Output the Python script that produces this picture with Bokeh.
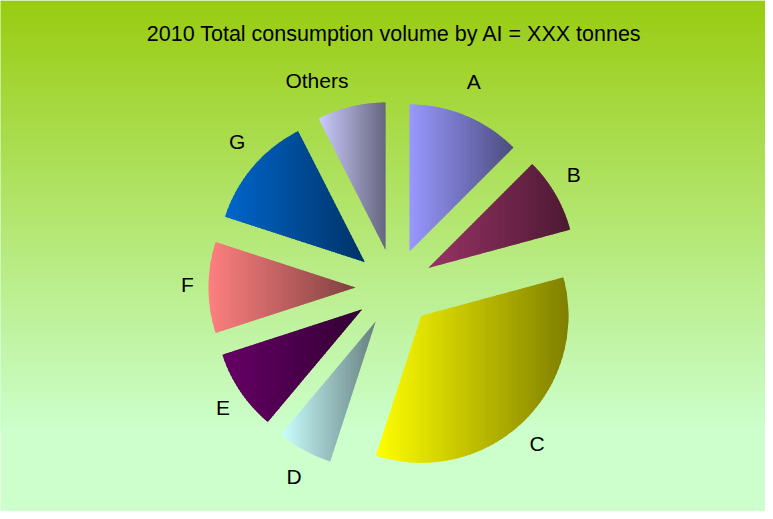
import numpy as np
from bokeh.plotting import figure
from bokeh.models import Range1d
from bokeh.embed import file_html
from bokeh.resources import INLINE
from bokeh.core.properties import value

# ---------------- data ----------------
title_text = "2010 Total consumption volume by AI = XXX tonnes"
categories = ["A", "B", "C", "D", "E", "F", "G", "Others"]
shares = [12.5, 8.3, 34.2, 6.1, 8.9, 10.0, 12.5, 7.5]
base_colors = ["#9999FF", "#993366", "#FFFF00", "#CCFFFF",
               "#660066", "#FF8080", "#0066CC", "#CCCCFF"]

# ---------------- layout / style ----------------
W, H = 765, 511
X0, Y0 = 0, 0
CX, CY = 394, 287          # pie centre (pixels)
R = 147                    # pie radius
EXPLODE = 39               # explosion distance
LABEL_RX, LABEL_RY = 207, 220
LABEL_DY = -3
LABEL_NUDGE = {"Others": -8.5}
DARK = 0.5
BG_TOP = np.array([153, 204, 17], dtype=float)
BG_BOT = np.array([204, 255, 204], dtype=float)
BG_END = 430
FONT = "Liberation Sans"

p = figure(width=W, height=H, x_range=Range1d(X0, X0 + W), y_range=Range1d(Y0 + H, Y0),
           output_backend="svg", toolbar_location=None, min_border=0,
           x_axis_location=None, y_axis_location=None)
p.grid.visible = False
p.outline_line_color = None
p.background_fill_color = "#CCFFCC"
p.border_fill_color = "#CCFFCC"

# background vertical gradient
ys = np.arange(Y0, BG_END + 1)
t = (ys - Y0) / (BG_END - Y0)
cols = []
for tt in t:
    c = BG_TOP * (1 - tt) + BG_BOT * tt
    cols.append("#%02x%02x%02x" % tuple(int(round(v)) for v in c))
p.quad(left=[X0] * len(ys), right=[X0 + W] * len(ys), top=list(ys), bottom=list(ys + 2),
       fill_color=cols, line_color=None)


def hex2rgb(h):
    h = h.lstrip("#")
    return np.array([int(h[i:i + 2], 16) for i in (0, 2, 4)], dtype=float)


def clip(poly, xv, keep_greater):
    out = []
    n = len(poly)
    for i in range(n):
        a = poly[i]
        b = poly[(i + 1) % n]
        ina = a[0] >= xv if keep_greater else a[0] <= xv
        inb = b[0] >= xv if keep_greater else b[0] <= xv
        if ina:
            out.append(a)
        if ina != inb:
            s = (xv - a[0]) / (b[0] - a[0])
            out.append((xv, a[1] + s * (b[1] - a[1])))
    return out


total = float(sum(shares))
start = 0.0
xs_all, ys_all, fc_all = [], [], []
lx, ly = [], []
for cat, sh, col in zip(categories, shares, base_colors):
    span = 360.0 * sh / total
    a0, a1 = start, start + span
    mid = np.radians((a0 + a1) / 2)
    ox = CX + EXPLODE * np.sin(mid)
    oy = CY - EXPLODE * np.cos(mid)
    angs = np.radians(np.linspace(a0, a1, 80))
    poly = [(ox, oy)] + [(ox + R * np.sin(a), oy - R * np.cos(a)) for a in angs]
    xmin = min(q[0] for q in poly)
    xmax = max(q[0] for q in poly)
    c0 = hex2rgb(col)
    c1 = c0 * DARK
    step = 2.0
    x = xmin
    while x < xmax:
        seg = clip(clip(poly, x, True), x + step + 1.0, False)
        if len(seg) >= 3:
            tt = min(1.0, max(0.0, (x + step / 2 - xmin) / (xmax - xmin)))
            c = c0 * (1 - tt) + c1 * tt
            xs_all.append([q[0] for q in seg])
            ys_all.append([q[1] for q in seg])
            fc_all.append("#%02x%02x%02x" % tuple(int(round(v)) for v in c))
        x += step
    la = mid + np.radians(LABEL_NUDGE.get(cat, 0.0))
    lx.append(CX + LABEL_RX * np.sin(la))
    ly.append(CY - LABEL_RY * np.cos(la) + LABEL_DY)
    start = a1

p.patches(xs=xs_all, ys=ys_all, fill_color=fc_all, line_color=None)

p.text(x=lx, y=ly, text=categories, text_align="center", text_baseline="middle",
       text_font=value(FONT), text_font_size="21px", text_color="black")

p.text(x=[CX], y=[33], text=[title_text], text_align="center", text_baseline="middle",
       text_font=value(FONT), text_font_size="21.5px", text_color="black")

open("out.html", "w").write(file_html(p, INLINE))
